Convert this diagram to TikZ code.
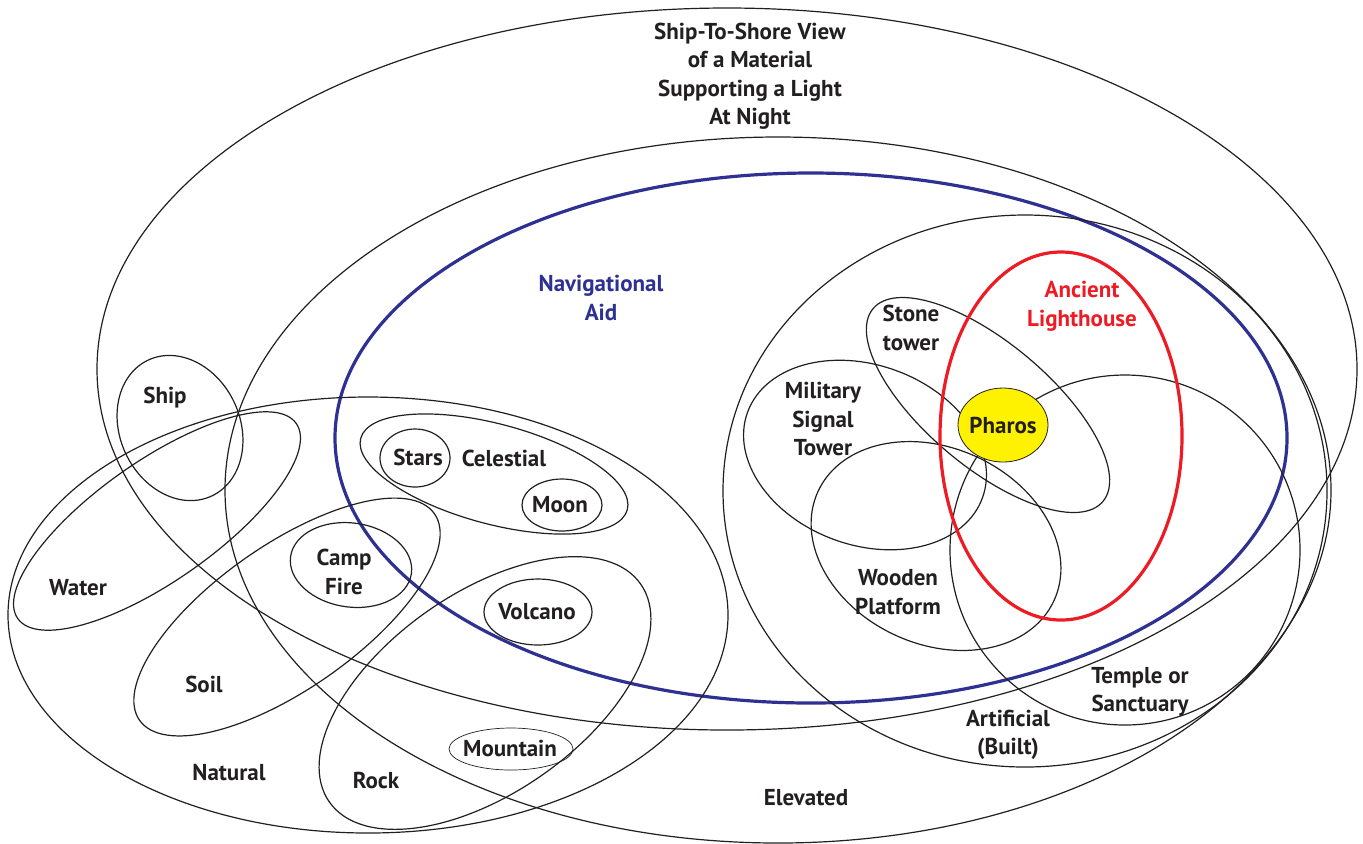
\documentclass[tikz,border=0pt]{standalone}
\usepackage{fontspec}
\setmainfont{PT Sans}
\usetikzlibrary{positioning}
\definecolor{ink}{HTML}{231F20}
\definecolor{navblue}{HTML}{2E3192}
\definecolor{lampred}{HTML}{ED1C24}
\definecolor{pharosyellow}{HTML}{FFF200}
\tikzset{
set/.style={draw=ink,line width=.6pt},
thinset/.style={set,line width=.35pt},
navset/.style={draw=navblue,line width=1.6pt},
lampset/.style={draw=lampred,line width=1.6pt},
core/.style={fill=pharosyellow,draw=ink,line width=.4pt},
lbl/.style={font=\fontsize{11.5}{14.25}\selectfont\bfseries,text=ink,align=center,inner sep=0pt},
navlbl/.style={lbl,text=navblue},
lamplbl/.style={lbl,text=lampred}}

\begin{document}
\begin{tikzpicture}[x=.5pt,y=-.5pt]
\useasboundingbox (0,0) rectangle (1363,843);
\draw[set] (727,369) ellipse [x radius=630,y radius=361];
\draw[set] (778,490) ellipse [x radius=553,y radius=353];
\draw[navset] (811,438) ellipse [x radius=476,y radius=265];
\draw[set] (368,615) ellipse [x radius=360,y radius=218];
\draw[set] (1025,491) ellipse [x radius=302,y radius=276];
\draw[set,rotate around={25:(180,428)}] (180,428) ellipse [x radius=60,y radius=75];
\draw[set,rotate around={35:(157,521)}] (157,521) ellipse [x radius=170,y radius=60];
\draw[set,rotate around={35:(287,617)}] (287,617) ellipse [x radius=180,y radius=72];
\draw[set,rotate around={35:(485,693)}] (485,693) ellipse [x radius=190,y radius=100];
\draw[set,rotate around={-15:(494,474)}] (494,474) ellipse [x radius=138,y radius=50];
\draw[set] (415,458) ellipse [x radius=35,y radius=29];
\draw[set] (562,505) ellipse [x radius=40,y radius=26];
\draw[set,rotate around={-8:(351,565)}] (351,565) ellipse [x radius=61,y radius=42];
\draw[set] (538,612) ellipse [x radius=54,y radius=33];
\draw[thinset] (511,749) ellipse [x radius=62,y radius=21];
\draw[set,rotate around={-20:(865,455)}] (865,455) ellipse [x radius=125,y radius=90];
\draw[set,rotate around={-25:(936,546)}] (936,546) ellipse [x radius=130,y radius=98];
\draw[set,rotate around={-40:(988,405)}] (988,405) ellipse [x radius=150,y radius=62];
\draw[set] (1125,550) circle [radius=175];
\draw[lampset] (1061,436) ellipse [x radius=121,y radius=184];
\draw[core] (1003,425) ellipse [x radius=45,y radius=37];
\node[lbl] (shore) at (750,76) {Ship-To-Shore View\\of a Material\\Supporting a Light\\At Night};
\node[navlbl] (nav) at (601,298) {Navigational\\Aid};
\node[lamplbl] (ancient) at (1082,306) {Ancient\\Lighthouse};
\node[lbl] (stone) at (911,328) {Stone\\tower};
\node[lbl] (military) at (823,419) {Military\\Signal\\Tower};
\node[lbl] (pharos) at (1003,425) {Pharos};
\node[lbl] (wooden) at (898,592) {Wooden\\Platform};
\node[lbl] (temple) at (1140,692) {Temple or\\Sanctuary};
\node[lbl] (artificial) at (1008,735) {Artificial\\(Built)};
\node[lbl] (elevated) at (806,798) {Elevated};
\node[lbl] (ship) at (165,398) {Ship};
\node[lbl] (stars) at (418,457) {Stars};
\node[lbl] (celestial) at (504,458) {Celestial};
\node[lbl] (moon) at (560,505) {Moon};
\node[lbl] (camp) at (344,572) {Camp\\Fire};
\node[lbl] (water) at (78,588) {Water};
\node[lbl] (volcano) at (537,612) {Volcano};
\node[lbl] (soil) at (204,684) {Soil};
\node[lbl] (natural) at (229,773) {Natural};
\node[lbl] (rock) at (376,780) {Rock};
\node[lbl] (mountain) at (510,748) {Mountain};
\end{tikzpicture}
\end{document}
